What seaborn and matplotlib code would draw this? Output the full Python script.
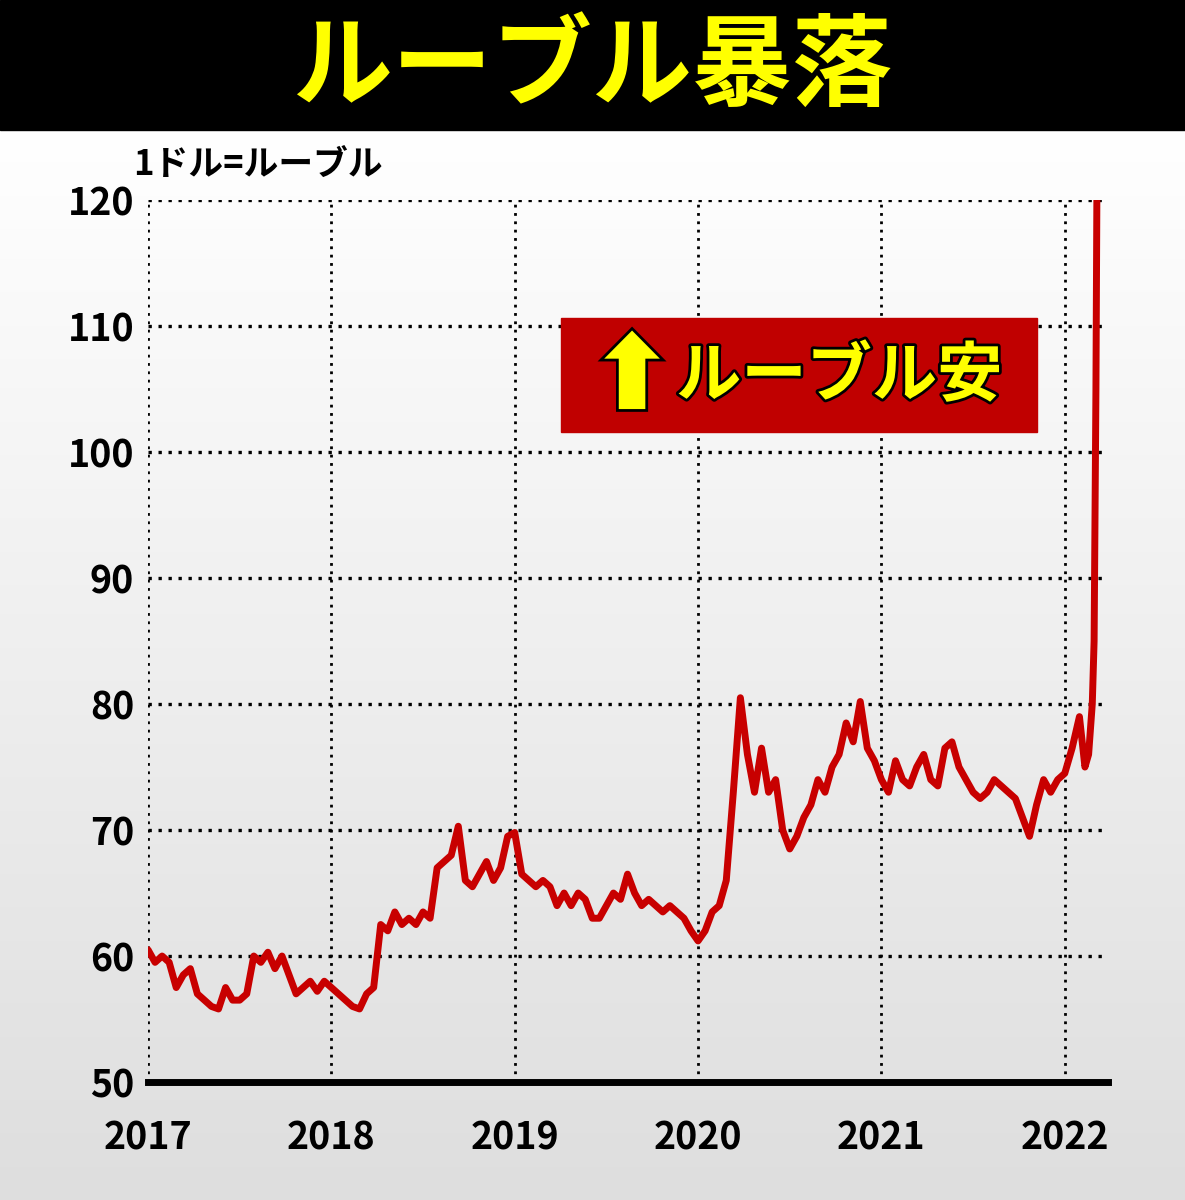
import numpy as np
import pandas as pd
import matplotlib
matplotlib.use('Agg')
import matplotlib.pyplot as plt
import matplotlib.patches as mpatches
import matplotlib.patheffects as pe
import seaborn as sns

# biweekly estimates of USD/RUB per year
rub_2017 = [60.5, 59.5, 60, 59.5, 57.5, 58.5, 59, 57, 56.5, 56, 55.8, 57.5, 56.5,
            56.5, 57, 60, 59.5, 60.3, 59, 60, 58.5, 57, 57.5, 58, 57.2, 58]
rub_2018 = [57.5, 57, 56.5, 56, 55.8, 57, 57.5, 62.5, 62, 63.5, 62.5, 63, 62.5,
            63.5, 63, 67, 67.5, 68, 70.3, 66, 65.5, 66.5, 67.5, 66, 67, 69.5]
rub_2019 = [69.8, 66.5, 66, 65.5, 66, 65.5, 64, 65, 64, 65, 64.5, 63, 63,
            64, 65, 64.5, 66.5, 65, 64, 64.5, 64, 63.5, 64, 63.5, 63, 62]
rub_2020 = [61.2, 62, 63.5, 64, 66, 73, 80.5, 76, 73, 76.5, 73, 74, 70,
            68.5, 69.5, 71, 72, 74, 73, 75, 76, 78.5, 77, 80.2, 76.5, 75.5]
rub_2021 = [74, 73, 75.5, 74, 73.5, 75, 76, 74, 73.5, 76.5, 77, 75, 74,
            73, 72.5, 73, 74, 73.5, 73, 72.5, 71, 69.5, 72, 74, 73, 74]
dates_2022 = [2022.0, 2022.04, 2022.08, 2022.11, 2022.13, 2022.15, 2022.16, 2022.17, 2022.175]
rub_2022 = [74.5, 76.5, 79, 75, 76, 80, 85, 105, 120]

years = [2017, 2018, 2019, 2020, 2021]
yearly = [rub_2017, rub_2018, rub_2019, rub_2020, rub_2021]
x, y = [], []
for yr, vals in zip(years, yearly):
    x += [yr + i / len(vals) for i in range(len(vals))]
    y += vals
x += dates_2022
y += rub_2022
df = pd.DataFrame({'date': x, 'rate': y})

y_ticks = [50, 60, 70, 80, 90, 100, 110, 120]
x_ticks = [2017, 2018, 2019, 2020, 2021, 2022]

sns.set_style('white')
plt.rcParams['font.family'] = ['Noto Sans CJK JP', 'DejaVu Sans']
fig = plt.figure(figsize=(11.85, 12), dpi=100)

# background gradient
bg = fig.add_axes([0, 0, 1, 0.892], zorder=-5)
bg.imshow(np.linspace(1, 0, 256).reshape(-1, 1), cmap=plt.cm.colors.LinearSegmentedColormap.from_list('g', ['#dedede', '#ffffff']),
          aspect='auto', extent=[0, 1, 0, 1])
bg.axis('off')

# title band
fig.patches.append(mpatches.Rectangle((0, 0.892), 1, 0.108, transform=fig.transFigure, color='black'))
fig.text(0.5, 0.943, 'ルーブル暴落', color='#ffff00', fontsize=72, fontweight='bold', ha='center', va='center')

ax = fig.add_axes([0.1249, 0.0983, 0.81, 0.735])
ax.patch.set_alpha(0)
for yv in y_ticks[1:]:
    ax.axhline(yv, color='black', ls=(0, (1, 2)), lw=2.4, zorder=1)
for xv in x_ticks:
    ax.axvline(xv, color='black', ls=(0, (1, 2)), lw=2.0, zorder=1)

sns.lineplot(data=df, x='date', y='rate', ax=ax, color='#c80000', lw=5, zorder=3)

ax.set_xlim(2017, 2022.235)
ax.set_ylim(50, 120)
ax.set_xticks(x_ticks)
ax.set_yticks(y_ticks)
ax.set_xticklabels([str(v) for v in x_ticks], fontsize=27, fontweight='bold', color='black')
ax.set_yticklabels([str(v) for v in y_ticks], fontsize=27, fontweight='bold', color='black')
ax.tick_params(length=0, pad=10)
ax.tick_params(axis='x', pad=26)
for s in ['top', 'right', 'left']:
    ax.spines[s].set_visible(False)
ax.spines['bottom'].set_linewidth(5)
ax.spines['bottom'].set_color('black')
ax.set_xlabel('')
ax.set_ylabel('')

ax.text(-0.015, 1.02, '1ドル=ルーブル', transform=ax.transAxes, fontsize=25, fontweight='bold', va='bottom', color='black')

# annotation box
ax.add_patch(mpatches.Rectangle((2019.25, 101.6), 2.6, 9.0, color='#c00000', zorder=4))
ax.add_patch(mpatches.FancyArrow(2019.64, 103.3, 0, 4.0, width=0.16, head_width=0.34, head_length=2.5,
                                 length_includes_head=False, facecolor='#ffff00', edgecolor='black', lw=2, zorder=5))
ax.text(2019.88, 106.0, 'ルーブル安', color='#ffff00', fontsize=47, fontweight='bold', va='center', zorder=6,
        path_effects=[pe.withStroke(linewidth=4, foreground='black')])

fig.savefig('out.png', dpi=100)
